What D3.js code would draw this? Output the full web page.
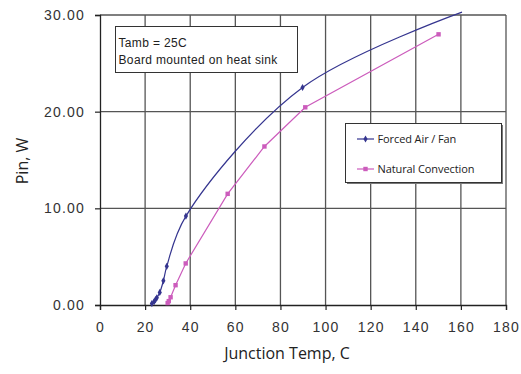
<!DOCTYPE html>
<html><head><meta charset="utf-8">
<script src="https://cdn.jsdelivr.net/npm/d3@7"></script>
<style>
body{margin:0;background:#fff;}
svg{display:block;}
</style></head>
<body>
<svg id="chart" width="521" height="374"></svg>
<script>
const forcedT = [23, 24, 24.6, 25.2, 26.5, 28.1, 29.6, 38.1, 89.8, 160.5];
const forcedP = [0.15, 0.35, 0.55, 0.75, 1.3, 2.5, 4.0, 9.2, 22.5, 30.3];
const naturalT = [30, 30.5, 31.3, 33.5, 38, 56.6, 72.9, 91, 150.1];
const naturalP = [0.2, 0.4, 0.8, 2.05, 4.3, 11.5, 16.4, 20.45, 28.0];
const xTicks = [0, 20, 40, 60, 80, 100, 120, 140, 160, 180];
const yTicks = [0, 10, 20, 30];
const seriesNames = ["Forced Air / Fan", "Natural Convection"];
const noteLines = ["Tamb = 25C", "Board mounted on heat sink"];
const xTitle = "Junction Temp, C";
const yTitle = "Pin, W";

const svg = d3.select("#chart");
const x = d3.scaleLinear().domain([0, 180]).range([100, 506]);
const y = d3.scaleLinear().domain([0, 30]).range([305, 15]);
const blue = "#35358f", pink = "#cc5cbc";
const tickFont = "Liberation Sans, Arial, sans-serif";
const titleFont = "'Open Sans', 'Noto Sans', sans-serif";

// grid
const grid = svg.append("g");
grid.selectAll("line.v").data(xTicks.filter(d => d > 0)).join("line")
  .attr("x1", d => x(d)).attr("x2", d => x(d)).attr("y1", y(0)).attr("y2", y(30))
  .attr("stroke", "#555").attr("stroke-width", 1.3);
grid.selectAll("line.h").data(yTicks.filter(d => d > 0)).join("line")
  .attr("x1", x(0)).attr("x2", x(180)).attr("y1", d => y(d)).attr("y2", d => y(d))
  .attr("stroke", "#555").attr("stroke-width", 1.3);

// axes
const xAxis = d3.axisBottom(x).tickValues(xTicks).tickSize(5).tickPadding(8).tickFormat(d3.format("d"));
const yAxis = d3.axisLeft(y).tickValues(yTicks).tickSize(5).tickPadding(10).tickFormat(d3.format(".2f"));
const gx = svg.append("g").attr("transform", `translate(0,${y(0)})`).call(xAxis);
const gy = svg.append("g").attr("transform", `translate(${x(0)},0)`).call(yAxis);
[gx, gy].forEach(g => {
  g.select(".domain").attr("stroke", "#222").attr("stroke-width", 1.3);
  g.selectAll(".tick line").attr("stroke", "#222").attr("stroke-width", 1.2);
  g.selectAll("text").attr("fill", "#333").style("font-family", tickFont)
    .style("font-size", "14px").style("letter-spacing", "1.2px");
});
gx.selectAll("text").attr("dy", "1em");

// lines
const forced = forcedT.map((t, i) => ({t, p: forcedP[i]}));
const natural = naturalT.map((t, i) => ({t, p: naturalP[i]}));
const lineSmooth = d3.line().x(d => x(d.t)).y(d => y(d.p)).curve(d3.curveCatmullRom.alpha(0.5));
const lineStraight = d3.line().x(d => x(d.t)).y(d => y(d.p));
svg.append("path").datum(natural).attr("d", lineStraight).attr("fill", "none")
  .attr("stroke", pink).attr("stroke-width", 1.2);
svg.append("path").datum(forced).attr("d", lineSmooth).attr("fill", "none")
  .attr("stroke", blue).attr("stroke-width", 1.2);

svg.selectAll("rect.nat").data(natural).join("rect").attr("class", "nat")
  .attr("x", d => x(d.t) - 2.2).attr("y", d => y(d.p) - 2.2)
  .attr("width", 4.4).attr("height", 4.4).attr("fill", pink);
const diamond = d3.symbol().type(d3.symbolDiamond).size(15);
svg.selectAll("path.frc").data(forced.filter(d => d.p <= 30)).join("path").attr("class", "frc")
  .attr("d", diamond).attr("transform", d => `translate(${x(d.t)},${y(d.p)})`)
  .attr("fill", blue);

// note box
const note = svg.append("g");
note.append("rect").attr("x", 115.5).attr("y", 26.5).attr("width", 182).attr("height", 46)
  .attr("fill", "#fff").attr("stroke", "#333").attr("stroke-width", 1);
note.selectAll("text").data(noteLines).join("text")
  .attr("x", 118.5).attr("y", (d, i) => 47 + i * 16.5)
  .attr("fill", "#222").style("font-family", tickFont).style("font-size", "12px")
  .style("letter-spacing", "0.35px").text(d => d);

// legend
const leg = svg.append("g");
leg.append("rect").attr("x", 347).attr("y", 125).attr("width", 156).attr("height", 59).attr("fill", "#777");
leg.append("rect").attr("x", 345.5).attr("y", 123.5).attr("width", 156).attr("height", 59)
  .attr("fill", "#fff").attr("stroke", "#333").attr("stroke-width", 1);
const legY = [139, 169];
const colors = [blue, pink];
seriesNames.forEach((name, i) => {
  leg.append("line").attr("x1", 357).attr("x2", 374).attr("y1", legY[i]).attr("y2", legY[i])
    .attr("stroke", colors[i]).attr("stroke-width", 1.2);
  if (i === 0) {
    leg.append("path").attr("d", diamond).attr("transform", `translate(365.5,${legY[i]})`).attr("fill", blue);
  } else {
    leg.append("rect").attr("x", 363.3).attr("y", legY[i] - 2.2).attr("width", 4.4).attr("height", 4.4).attr("fill", pink);
  }
  leg.append("text").attr("x", 377.5).attr("y", legY[i]).attr("dy", "0.35em")
    .attr("fill", "#222").style("font-family", titleFont).style("font-size", "11px")
    .style("letter-spacing", "-0.1px").text(name);
});

// axis titles
svg.append("text").attr("x", 287).attr("y", 359).attr("text-anchor", "middle")
  .attr("fill", "#222").style("font-family", titleFont).style("font-size", "16px").text(xTitle);
svg.append("text").attr("transform", "translate(28,161) rotate(-90)").attr("text-anchor", "middle")
  .attr("fill", "#222").style("font-family", titleFont).style("font-size", "16px").text(yTitle);
</script>
</body></html>
